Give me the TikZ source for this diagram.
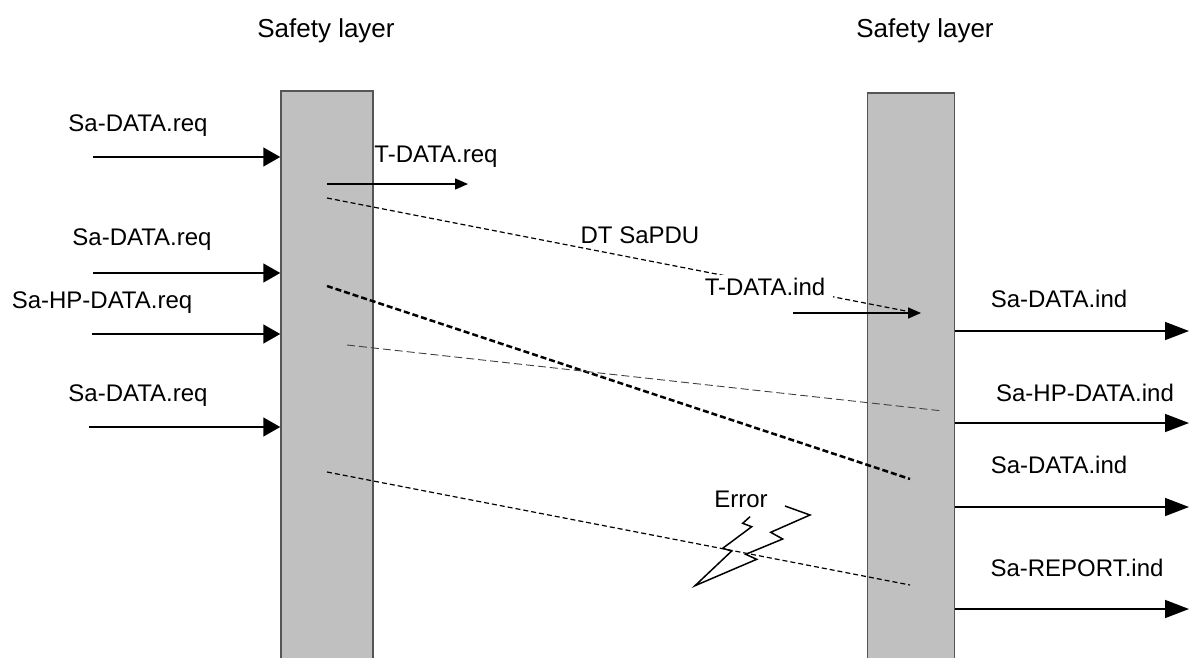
\documentclass[tikz,border=0pt]{standalone}
\usepackage{fontspec}
\setmainfont{Liberation Sans}
\usetikzlibrary{arrows.meta,positioning}
\definecolor{bargray}{HTML}{C0C0C0}
\definecolor{edgegray}{HTML}{555555}

\begin{document}
\begin{tikzpicture}[x=1pt, y=-1pt, font=\fontsize{24}{28}\selectfont,
  bar/.style={draw=edgegray, line width=1.5pt, fill=bargray, minimum height=570pt, inner sep=0pt},
  lbl/.style={anchor=base, inner sep=0pt},
  title/.style={anchor=base, inner sep=0pt, font=\fontsize{26}{30}\selectfont},
  req/.style={line width=1.5pt, -{Triangle[length=17pt,width=19pt]}},
  ind/.style={line width=1.5pt, -{Triangle[length=24pt,width=18pt]}},
  tprim/.style={line width=1.5pt, -{Triangle[length=13pt,width=11pt]}},
  pdu/.style={line width=1.2pt, dash pattern=on 5pt off 3pt},
  pduthick/.style={line width=2.5pt, dash pattern=on 6pt off 3pt},
  pduthin/.style={line width=0.9pt, draw=black!75, dash pattern=on 8pt off 4pt}]
\useasboundingbox (0,0) rectangle (1192,657);

% the two safety layers
\node[bar, minimum width=92pt] (L) at (327,376) {};
\node[bar, minimum width=87pt] (R) at (911,378) {};
\node[title] (TL) at (326,37) {Safety layer};
\node[title] (TR) at (925,37) {Safety layer};

% requests on the left
\node[lbl] (Q1) at (138,131.7) {Sa-DATA.req};
\node[lbl] (Q2) at (142,245) {Sa-DATA.req};
\node[lbl] (Q3) at (102,308) {Sa-HP-DATA.req};
\node[lbl] (Q4) at (138,401.7) {Sa-DATA.req};
\coordinate (q1) at (93,157);
\coordinate (q2) at (93,273);
\coordinate (q3) at (92,334);
\coordinate (q4) at (89,427);
\draw[req] (q1) -- (q1 -| L.west);
\draw[req] (q2) -- (q2 -| L.west);
\draw[req] (q3) -- (q3 -| L.west);
\draw[req] (q4) -- (q4 -| L.west);

% transport request
\node[lbl] (TQ) at (436,162) {T-DATA.req};
\coordinate (tq1) at (327,184);
\coordinate (tq2) at (468,184);
\draw[tprim] (tq1) -- (tq2);

% SaPDUs on their way
\coordinate (d1a) at (327,198);
\coordinate (d1b) at (916,313);
\coordinate (d2a) at (327,286);
\coordinate (d2b) at (910,479);
\coordinate (d3a) at (347,345);
\coordinate (d3b) at (943,411);
\coordinate (d4a) at (327,472);
\coordinate (d4b) at (910,585);
\draw[pdu] (d1a) -- (d1b);
\draw[pduthick] (d2a) -- (d2b);
\draw[pduthin] (d3a) -- (d3b);
\draw[pdu] (d4a) -- (d4b);
\node[lbl] (PDU) at (640,243) {DT SaPDU};
\node[lbl, fill=white, inner xsep=8pt, inner ysep=3pt] (TI) at (765,295) {T-DATA.ind};
\coordinate (ti1) at (793,313);
\coordinate (ti2) at (921,313);
\draw[tprim] (ti1) -- (ti2);

% indications on the right
\node[lbl] (I1) at (1059,307) {Sa-DATA.ind};
\node[lbl] (I2) at (1085,401) {Sa-HP-DATA.ind};
\node[lbl] (I3) at (1059,473) {Sa-DATA.ind};
\node[lbl] (I4) at (1077,576) {Sa-REPORT.ind};
\coordinate (i1) at (1189,331);
\coordinate (i2) at (1189,423);
\coordinate (i3) at (1189,507);
\coordinate (i4) at (1189,609);
\draw[ind] (i1 -| R.east) -- (i1);
\draw[ind] (i2 -| R.east) -- (i2);
\draw[ind] (i3 -| R.east) -- (i3);
\draw[ind] (i4 -| R.east) -- (i4);

% error flash
\node[lbl] (E) at (741,507.7) {Error};
\draw[line width=1.5pt] (750,516.7) -- (742.7,523.3) -- (751.7,526.7) -- (722.7,548.3)
  -- (731.7,551) -- (695,585.7) -- (756.7,559.3) -- (745.7,554.3) -- (782.7,539)
  -- (770.7,532.3) -- (810,515) -- (785,506);
\end{tikzpicture}
\end{document}
